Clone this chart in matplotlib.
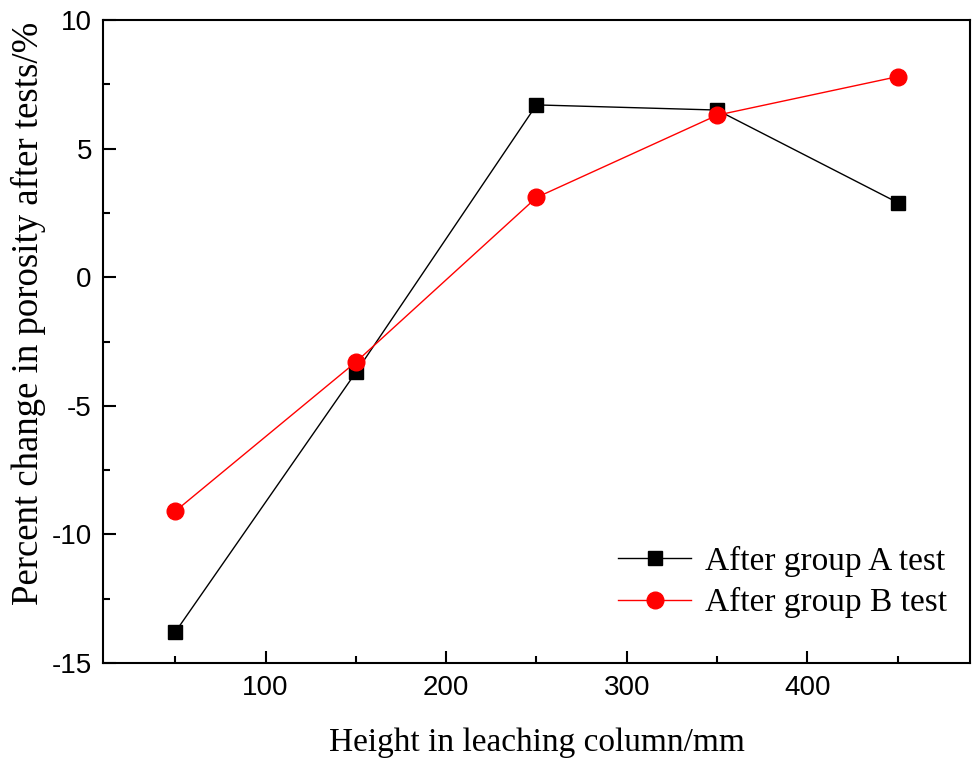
import numpy as np
import matplotlib.pyplot as plt

# data
height = [50, 150, 250, 350, 450]
group_a = [-13.8, -3.7, 6.7, 6.5, 2.9]
group_b = [-9.1, -3.3, 3.1, 6.3, 7.8]

plt.rcParams['axes.unicode_minus'] = False

fig = plt.figure(figsize=(9.77, 7.59), dpi=100)
ax = fig.add_axes([0.1054, 0.1265, 0.8874, 0.8471])

ax.plot(height, group_a, color='black', lw=1, marker='s', markersize=10.5,
        label='After group A test')
ax.plot(height, group_b, color='red', lw=1, marker='o', markersize=12,
        label='After group B test')

ax.set_xlim(10, 490)
ax.set_ylim(-15, 10)
ax.set_xticks([100, 200, 300, 400])
ax.set_xticks([50, 150, 250, 350, 450], minor=True)
ax.set_yticks([-15, -10, -5, 0, 5, 10])
ax.set_yticks([-12.5, -7.5, -2.5, 2.5, 7.5], minor=True)
ax.tick_params(which='both', direction='in', width=1.5)
ax.tick_params(which='major', length=9)
ax.tick_params(which='minor', length=5)
ax.tick_params(axis='x', pad=9)
ax.tick_params(axis='y', pad=8)
for lab in ax.get_xticklabels() + ax.get_yticklabels():
    lab.set_family('Liberation Sans')
    lab.set_fontsize(20)
for s in ax.spines.values():
    s.set_linewidth(1.5)

ax.set_xlabel('Height in leaching column/mm', family='Liberation Serif',
              fontsize=24, labelpad=19)
ax.set_ylabel('Percent change in porosity after tests/%', family='Liberation Serif',
              fontsize=26.5, labelpad=4)
ax.yaxis.label.set_y(0.543)

ax.legend(loc='lower right', bbox_to_anchor=(1.008, 0.023), frameon=False,
          prop={'family': 'Liberation Serif', 'size': 24},
          handlelength=2.2, handletextpad=0.4, labelspacing=0.3)

fig.savefig('out.png', dpi=100)
